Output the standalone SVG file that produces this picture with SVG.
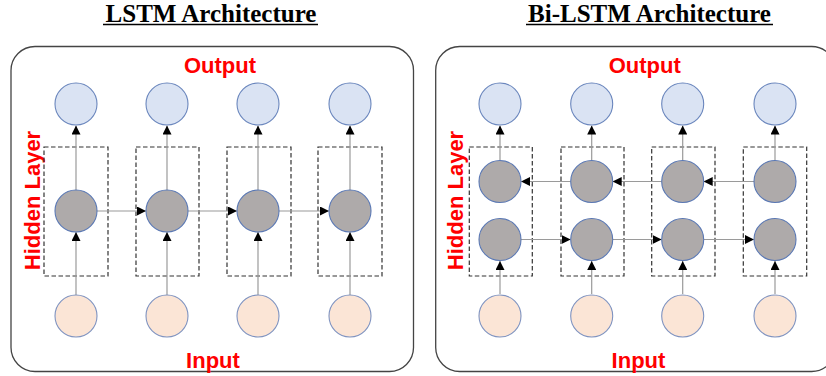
<svg xmlns="http://www.w3.org/2000/svg" width="826" height="376" viewBox="0 0 826 376">
<defs>
<style>
.title{font-family:"Liberation Serif","Times New Roman",serif;font-weight:bold;font-size:25px;fill:#000;text-anchor:middle}
.lbl{font-family:"Liberation Sans",Arial,sans-serif;font-weight:bold;font-size:22px;fill:#ff0000;text-anchor:middle}
.frame{fill:#fff;stroke:#444;stroke-width:1.3}
.box{fill:none;stroke:#333;stroke-width:1.2;stroke-dasharray:4.5,2.5}
.out{fill:#dae3f3;stroke:#6a86bd;stroke-width:1.1}
.hid{fill:#aeaaaa;stroke:#5a78b4;stroke-width:1.1}
.inp{fill:#fbe5d6;stroke:#7f93c0;stroke-width:1.1}
.con{stroke:#9a9a9a;stroke-width:1.2;fill:none;marker-end:url(#ah)}
.ul{stroke:#000;stroke-width:1.5}
</style>
<marker id="ah" viewBox="0 0 10 10" refX="10" refY="5" markerWidth="9" markerHeight="9" markerUnits="userSpaceOnUse" orient="auto">
<path d="M0,0 L10,5 L0,10 Z" fill="#000"/>
</marker>
</defs>
<rect width="826" height="376" fill="#fff"/>

<!-- Titles -->
<g id="title-lstm"><text class="title" x="211" y="22">LSTM Architecture</text><line class="ul" x1="103" y1="24.5" x2="318" y2="24.5"/></g>
<g id="title-bilstm"><text class="title" x="649.5" y="22">Bi-LSTM Architecture</text><line class="ul" x1="526" y1="24.5" x2="773" y2="24.5"/></g>

<!-- Frames -->
<rect id="frame-lstm" class="frame" x="11" y="46.5" width="402.5" height="325" rx="24"/>
<rect id="frame-bilstm" class="frame" x="435.7" y="46.5" width="400" height="325" rx="24"/>

<!-- Labels left -->
<g id="labels-lstm">
<text class="lbl" x="220" y="73">Output</text>
<text class="lbl" x="213" y="368">Input</text>
<text class="lbl" transform="translate(39.5,200.5) rotate(-90)" x="0" y="0">Hidden Layer</text>
</g>
<!-- Labels right -->
<g id="labels-bilstm">
<text class="lbl" x="644.7" y="73">Output</text>
<text class="lbl" x="638.5" y="368">Input</text>
<text class="lbl" transform="translate(463,200.5) rotate(-90)" x="0" y="0">Hidden Layer</text>
</g>

<!-- Dashed boxes -->
<g id="boxes">
<rect class="box" x="44" y="147" width="64" height="129"/>
<rect class="box" x="136" y="147" width="63" height="129"/>
<rect class="box" x="227" y="147" width="64" height="129"/>
<rect class="box" x="318" y="147" width="64" height="129"/>
<rect class="box" x="469.3" y="147" width="63" height="129"/>
<rect class="box" x="561" y="147" width="63" height="129"/>
<rect class="box" x="651.7" y="147" width="63.3" height="129"/>
<rect class="box" x="743.3" y="147" width="63.4" height="129"/>
</g>

<!-- Connectors -->
<g id="connectors">
<!-- LSTM -->
<line class="con" x1="76" y1="190" x2="76" y2="125.5"/>
<line class="con" x1="167" y1="190" x2="167" y2="125.5"/>
<line class="con" x1="258" y1="190" x2="258" y2="125.5"/>
<line class="con" x1="350" y1="190" x2="350" y2="125.5"/>
<line class="con" x1="76" y1="295" x2="76" y2="232"/>
<line class="con" x1="167" y1="295" x2="167" y2="232"/>
<line class="con" x1="258" y1="295" x2="258" y2="232"/>
<line class="con" x1="350" y1="295" x2="350" y2="232"/>
<line class="con" x1="97" y1="211" x2="146" y2="211"/>
<line class="con" x1="188" y1="211" x2="237" y2="211"/>
<line class="con" x1="279" y1="211" x2="329" y2="211"/>
<!-- Bi-LSTM -->
<line class="con" x1="500" y1="160.5" x2="500" y2="125.5"/>
<line class="con" x1="591.7" y1="160.5" x2="591.7" y2="125.5"/>
<line class="con" x1="682.7" y1="160.5" x2="682.7" y2="125.5"/>
<line class="con" x1="775" y1="160.5" x2="775" y2="125.5"/>
<line class="con" x1="500" y1="294" x2="500" y2="261"/>
<line class="con" x1="591.7" y1="294" x2="591.7" y2="261"/>
<line class="con" x1="682.7" y1="294" x2="682.7" y2="261"/>
<line class="con" x1="775" y1="294" x2="775" y2="261"/>
<line class="con" x1="570.7" y1="181.5" x2="521" y2="181.5"/>
<line class="con" x1="661.7" y1="181.5" x2="612.7" y2="181.5"/>
<line class="con" x1="754" y1="181.5" x2="703.7" y2="181.5"/>
<line class="con" x1="521" y1="239.5" x2="570.7" y2="239.5"/>
<line class="con" x1="612.7" y1="239.5" x2="661.7" y2="239.5"/>
<line class="con" x1="703.7" y1="239.5" x2="754" y2="239.5"/>
</g>

<!-- LSTM nodes -->
<g id="lstm-out1"><circle class="out" cx="76" cy="104" r="21"/></g>
<g id="lstm-out2"><circle class="out" cx="167" cy="104" r="21"/></g>
<g id="lstm-out3"><circle class="out" cx="258" cy="104" r="21"/></g>
<g id="lstm-out4"><circle class="out" cx="350" cy="104" r="21"/></g>
<g id="lstm-hid1"><circle class="hid" cx="76" cy="211" r="21"/></g>
<g id="lstm-hid2"><circle class="hid" cx="167" cy="211" r="21"/></g>
<g id="lstm-hid3"><circle class="hid" cx="258" cy="211" r="21"/></g>
<g id="lstm-hid4"><circle class="hid" cx="350" cy="211" r="21"/></g>
<g id="lstm-in1"><circle class="inp" cx="76" cy="316" r="21"/></g>
<g id="lstm-in2"><circle class="inp" cx="167" cy="316" r="21"/></g>
<g id="lstm-in3"><circle class="inp" cx="258" cy="316" r="21"/></g>
<g id="lstm-in4"><circle class="inp" cx="350" cy="316" r="21"/></g>

<!-- Bi-LSTM nodes -->
<g id="bi-out1"><circle class="out" cx="500" cy="104" r="21"/></g>
<g id="bi-out2"><circle class="out" cx="591.7" cy="104" r="21"/></g>
<g id="bi-out3"><circle class="out" cx="682.7" cy="104" r="21"/></g>
<g id="bi-out4"><circle class="out" cx="775" cy="104" r="21"/></g>
<g id="bi-bwd1"><circle class="hid" cx="500" cy="181.5" r="21"/></g>
<g id="bi-bwd2"><circle class="hid" cx="591.7" cy="181.5" r="21"/></g>
<g id="bi-bwd3"><circle class="hid" cx="682.7" cy="181.5" r="21"/></g>
<g id="bi-bwd4"><circle class="hid" cx="775" cy="181.5" r="21"/></g>
<g id="bi-fwd1"><circle class="hid" cx="500" cy="239.5" r="21"/></g>
<g id="bi-fwd2"><circle class="hid" cx="591.7" cy="239.5" r="21"/></g>
<g id="bi-fwd3"><circle class="hid" cx="682.7" cy="239.5" r="21"/></g>
<g id="bi-fwd4"><circle class="hid" cx="775" cy="239.5" r="21"/></g>
<g id="bi-in1"><circle class="inp" cx="500" cy="316" r="21"/></g>
<g id="bi-in2"><circle class="inp" cx="591.7" cy="316" r="21"/></g>
<g id="bi-in3"><circle class="inp" cx="682.7" cy="316" r="21"/></g>
<g id="bi-in4"><circle class="inp" cx="775" cy="316" r="21"/></g>
</svg>
